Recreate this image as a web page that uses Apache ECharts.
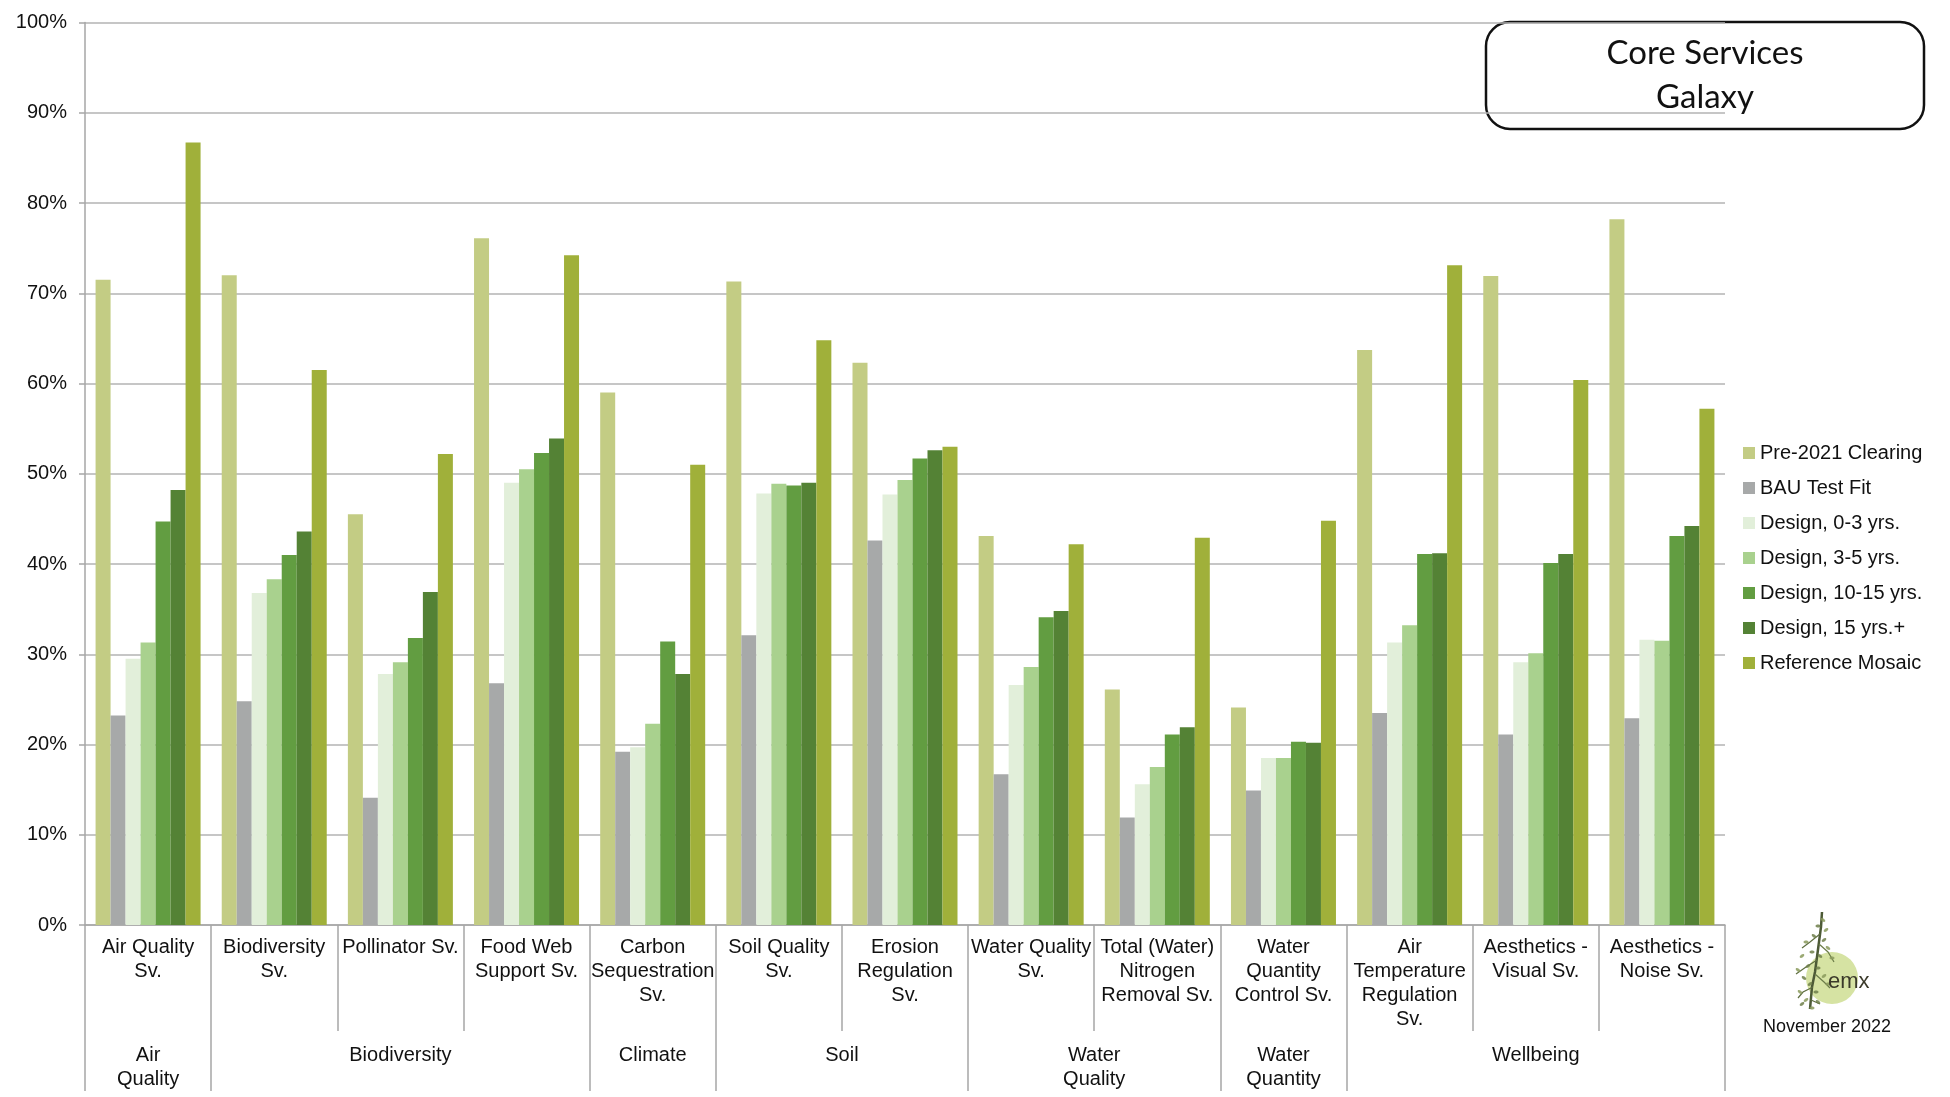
<!DOCTYPE html>
<html>
<head>
<meta charset="utf-8">
<script src="https://cdn.jsdelivr.net/npm/echarts@6/dist/echarts.min.js"></script>
<style>
html,body{margin:0;padding:0;background:#fff;}
#chart{width:1950px;height:1097px;}
</style>
</head>
<body>
<div id="chart"></div>
<script>
const categories = ['Air Quality\nSv.', 'Biodiversity\nSv.', 'Pollinator Sv.', 'Food Web\nSupport Sv.', 'Carbon\nSequestration\nSv.', 'Soil Quality\nSv.', 'Erosion\nRegulation\nSv.', 'Water Quality\nSv.', 'Total (Water)\nNitrogen\nRemoval Sv.', 'Water\nQuantity\nControl Sv.', 'Air\nTemperature\nRegulation\nSv.', 'Aesthetics -\nVisual Sv.', 'Aesthetics -\nNoise Sv.'];
const groupNames = ['Air\nQuality', 'Biodiversity', 'Climate', 'Soil', 'Water\nQuality', 'Water\nQuantity', 'Wellbeing'];
const groupSizes = [1, 3, 1, 2, 2, 1, 3];
const yTicks = [0, 10, 20, 30, 40, 50, 60, 70, 80, 90, 100];

const seriesNames = ['Pre-2021 Clearing', 'BAU Test Fit', 'Design, 0-3 yrs.', 'Design, 3-5 yrs.', 'Design, 10-15 yrs.', 'Design, 15 yrs.+', 'Reference Mosaic'];
const pre2021   = [71.5, 72.0, 45.5, 76.1, 59.0, 71.3, 62.3, 43.1, 26.1, 24.1, 63.7, 71.9, 78.2];
const bauTestFit= [23.2, 24.8, 14.1, 26.8, 19.2, 32.1, 42.6, 16.7, 11.9, 14.9, 23.5, 21.1, 22.9];
const design0_3 = [29.5, 36.8, 27.8, 49.0, 19.7, 47.8, 47.7, 26.6, 15.6, 18.5, 31.3, 29.1, 31.6];
const design3_5 = [31.3, 38.3, 29.1, 50.5, 22.3, 48.9, 49.3, 28.6, 17.5, 18.5, 33.2, 30.1, 31.5];
const design10_15=[44.7, 41.0, 31.8, 52.3, 31.4, 48.7, 51.7, 34.1, 21.1, 20.3, 41.1, 40.1, 43.1];
const design15p = [48.2, 43.6, 36.9, 53.9, 27.8, 49.0, 52.6, 34.8, 21.9, 20.2, 41.2, 41.1, 44.2];
const refMosaic = [86.7, 61.5, 52.2, 74.2, 51.0, 64.8, 53.0, 42.2, 42.9, 44.8, 73.1, 60.4, 57.2];
const seriesValues = [pre2021, bauTestFit, design0_3, design3_5, design10_15, design15p, refMosaic];
const seriesColors = ['#c3cc84', '#a7a9a9', '#e2efda', '#a9d18e', '#629d41', '#548235', '#a0b03a'];

// group boundaries and centers (in category units)
const groupBounds = [0];
groupSizes.forEach(s => groupBounds.push(groupBounds[groupBounds.length - 1] + s));
const groupCenters = groupSizes.map((s, i) => groupBounds[i] + s / 2);

const FONT = "'Liberation Sans', Arial, sans-serif";

// decorative logo leaves (relative to logo origin)
const leafSpots = [[33,8],[28,14],[36,18],[24,24],[16,30],[34,28],[38,36],[22,40],[12,44],[30,44],[42,46],[18,54],[8,58],[28,56],[34,64],[14,66],[38,72],[20,72],[10,80],[26,80],[16,88],[28,90],[22,96],[12,92]];

const logoChildren = [
  { type: 'circle', shape: { cx: 42, cy: 66, r: 26 }, style: { fill: '#d6e3a3' } },
  { type: 'polyline', shape: { points: [[32, 0], [31, 15], [29, 30], [27, 45], [25, 60], [22, 75], [20, 97]] }, style: { stroke: '#4d5a36', lineWidth: 2.5, fill: null } },
  { type: 'polyline', shape: { points: [[30, 22], [20, 30], [12, 36]] }, style: { stroke: '#5e6e40', lineWidth: 1.2, fill: null } },
  { type: 'polyline', shape: { points: [[29, 32], [38, 40], [44, 50]] }, style: { stroke: '#6b7b48', lineWidth: 1.2, fill: null } },
  { type: 'polyline', shape: { points: [[27, 48], [16, 55], [6, 62]] }, style: { stroke: '#5e6e40', lineWidth: 1.2, fill: null } },
  { type: 'polyline', shape: { points: [[25, 62], [34, 70], [40, 76]] }, style: { stroke: '#6b7b48', lineWidth: 1.2, fill: null } },
  { type: 'polyline', shape: { points: [[23, 75], [13, 80], [8, 86]] }, style: { stroke: '#5e6e40', lineWidth: 1.2, fill: null } },
  { type: 'polyline', shape: { points: [[21, 88], [30, 92]] }, style: { stroke: '#5e6e40', lineWidth: 1.2, fill: null } }
].concat(leafSpots.map((p, i) => ({
  type: 'ellipse', shape: { cx: p[0], cy: p[1], rx: 2.6, ry: 1.5 }, rotation: (i % 3 - 1) * 0.6, originX: p[0], originY: p[1],
  style: { fill: i % 2 ? '#6f7f4a' : '#8a9a5c', opacity: 0.85 }
}))).concat([
  { type: 'text', x: 38, y: 70, style: { text: 'emx', fontFamily: FONT, fontSize: 22, fill: '#3b3a2a', verticalAlign: 'middle' } },
  { type: 'text', x: 37, y: 115, style: { text: 'November 2022', fontFamily: FONT, fontSize: 18, fill: '#111', align: 'center', verticalAlign: 'middle' } }
]);

const chart = echarts.init(document.getElementById('chart'));
const option = {
  backgroundColor: '#ffffff',
  animation: false,
  grid: { left: 85, right: 225, top: 22.5, bottom: 172, containLabel: false },
  legend: {
    orient: 'vertical',
    left: 1738,
    top: 438,
    itemWidth: 12,
    itemHeight: 12,
    itemGap: 15,
    icon: 'rect',
    textStyle: { fontFamily: FONT, fontSize: 20, color: '#111' },
    data: seriesNames
  },
  xAxis: [
    {
      type: 'category',
      data: categories,
      position: 'bottom',
      boundaryGap: true,
      axisLine: { show: true, lineStyle: { color: '#a6a6a6', width: 1.5 } },
      axisTick: { show: true, length: 106, interval: 0, lineStyle: { color: '#a6a6a6', width: 1.5 } },
      axisLabel: { interval: 0, margin: 10, fontFamily: FONT, fontSize: 20, lineHeight: 24, color: '#111', verticalAlign: 'top' },
      splitLine: { show: false }
    },
    {
      type: 'value',
      min: 0,
      max: categories.length,
      position: 'bottom',
      axisLine: { show: false },
      axisTick: { show: true, length: 166, customValues: groupBounds, lineStyle: { color: '#a6a6a6', width: 1.5 } },
      axisLabel: {
        show: true, margin: 118, customValues: groupCenters,
        fontFamily: FONT, fontSize: 20, lineHeight: 24, color: '#111', verticalAlign: 'top',
        formatter: function (v) {
          const idx = groupCenters.findIndex(c => Math.abs(c - v) < 1e-6);
          return idx >= 0 ? groupNames[idx] : '';
        }
      },
      splitLine: { show: false }
    }
  ],
  yAxis: {
    type: 'value',
    min: 0,
    max: 100,
    interval: 10,
    axisLine: { show: true, lineStyle: { color: '#a6a6a6', width: 1.5 } },
    axisTick: { show: true, length: 6, lineStyle: { color: '#a6a6a6', width: 1.5 } },
    axisLabel: {
      margin: 18, fontFamily: FONT, fontSize: 20, color: '#111',
      formatter: v => (yTicks.indexOf(v) >= 0 ? v + '%' : '')
    },
    splitLine: { show: true, lineStyle: { color: '#b3b3b3', width: 1.5 } }
  },
  series: seriesNames.map((name, i) => ({
    name: name,
    type: 'bar',
    xAxisIndex: 0,
    barWidth: 15,
    barGap: '0%',
    itemStyle: { color: seriesColors[i] },
    data: seriesValues[i]
  })),
  graphic: [
    {
      type: 'group',
      x: 1486, y: 22,
      children: [
        { type: 'rect', shape: { x: 0, y: 0, width: 438, height: 107, r: 24 }, style: { fill: '#fff', stroke: '#111', lineWidth: 2.5 } },
        { type: 'text', x: 219, y: 53, style: { text: 'Core Services\nGalaxy', fontFamily: "Lato, 'Open Sans', sans-serif", fontSize: 33, lineHeight: 44, fill: '#111', align: 'center', verticalAlign: 'middle' } }
      ]
    },
    {
      type: 'group',
      x: 1790, y: 912,
      children: logoChildren
    }
  ]
};
chart.setOption(option);
</script>
</body>
</html>
